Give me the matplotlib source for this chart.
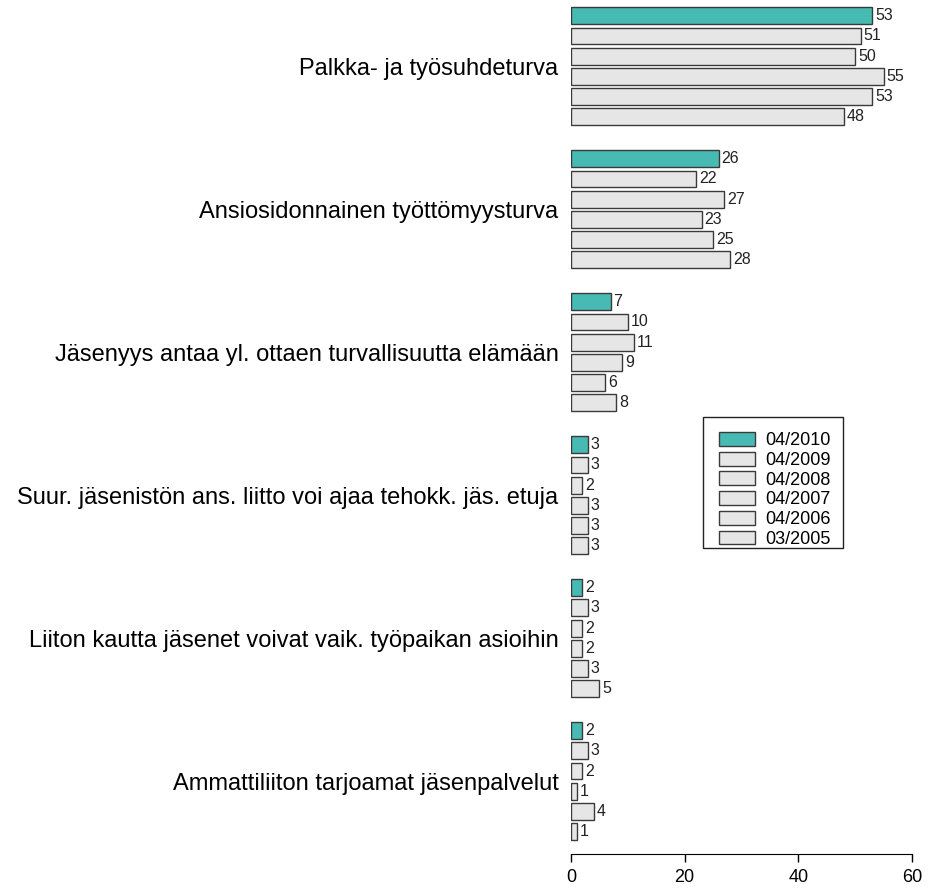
import numpy as np
import matplotlib.pyplot as plt
from matplotlib.patches import Rectangle

# kategoriat ylhäältä alas
kategoriat = ["Palkka- ja työsuhdeturva",
              "Ansiosidonnainen työttömyysturva",
              "Jäsenyys antaa yl. ottaen turvallisuutta elämään",
              "Suur. jäsenistön ans. liitto voi ajaa tehokk. jäs. etuja",
              "Liiton kautta jäsenet voivat vaik. työpaikan asioihin",
              "Ammattiliiton tarjoamat jäsenpalvelut"]
vuodet = ["04/2010", "04/2009", "04/2008", "04/2007", "04/2006", "03/2005"]

v2010 = [53, 26, 7, 3, 2, 2]
v2009 = [51, 22, 10, 3, 3, 3]
v2008 = [50, 27, 11, 2, 2, 2]
v2007 = [55, 23, 9, 3, 2, 1]
v2006 = [53, 25, 6, 3, 3, 4]
v2005 = [48, 28, 8, 3, 5, 1]
sarjat = [v2010, v2009, v2008, v2007, v2006, v2005]

teal = "#46BAB3"
harmaa = "#E6E6E6"
varit = [teal] + [harmaa] * 5

fig = plt.figure(figsize=(9.3, 8.88), dpi=100)
plt.rcParams['font.family'] = ['Liberation Sans', 'DejaVu Sans']

# akselin paikka pikseleinä
x0, x1 = 571 / 930, 912 / 930
ybot, ytop = 1 - 854 / 888, 1 - 2 / 888
ax = fig.add_axes([x0, ybot, x1 - x0, ytop - ybot])

leveys = 1.0
vali = 0.2
ryhmavali = 1.5
ryhma = len(sarjat) * leveys + (len(sarjat) - 1) * vali + ryhmavali

keskit = []
for g in range(len(kategoriat)):
    alku = g * ryhma
    ys = []
    for s in range(len(sarjat)):
        y = alku + s * (leveys + vali) + leveys / 2
        ys.append(y)
        ax.barh(y, sarjat[s][g], height=leveys, color=varit[s],
                edgecolor="#3a3a3a", linewidth=1.0,
                label=vuodet[s] if g == 0 else None)
        ax.annotate(str(sarjat[s][g]), (sarjat[s][g], y), xytext=(2, 0),
                    textcoords="offset points", ha="left", va="center",
                    fontsize=11.5, color="#222222")
    keskit.append(np.mean(ys))

loppu = (len(kategoriat) - 1) * ryhma + len(sarjat) * leveys + (len(sarjat) - 1) * vali
ax.set_ylim(loppu + 0.83, -0.32)
ax.set_xlim(0, 60)

ax.set_yticks(keskit)
ax.set_yticklabels(kategoriat, fontsize=17)
ax.tick_params(axis="y", length=0, pad=9)
ax.set_xticks([0, 20, 40, 60])
ax.tick_params(axis="x", labelsize=13, length=6, width=1, pad=5)

for s in ["top", "right", "left"]:
    ax.spines[s].set_visible(False)
ax.spines["bottom"].set_bounds(0, 60)
ax.patch.set_visible(False)

# selitteen kehys erikseen
fig.patches.append(Rectangle((703 / 930, 1 - 548 / 888), 140 / 930, 131 / 888,
                             transform=fig.transFigure, fill=False,
                             edgecolor="#222222", linewidth=1.0))
leg = ax.legend(loc="upper left", bbox_to_anchor=(719 / 930, 1 - 432 / 888),
                bbox_transform=fig.transFigure, fontsize=13, frameon=False,
                handlelength=2.0, handleheight=0.8, labelspacing=0.14,
                borderpad=0, handletextpad=0.55, borderaxespad=0)

fig.savefig("out.png", dpi=100)
